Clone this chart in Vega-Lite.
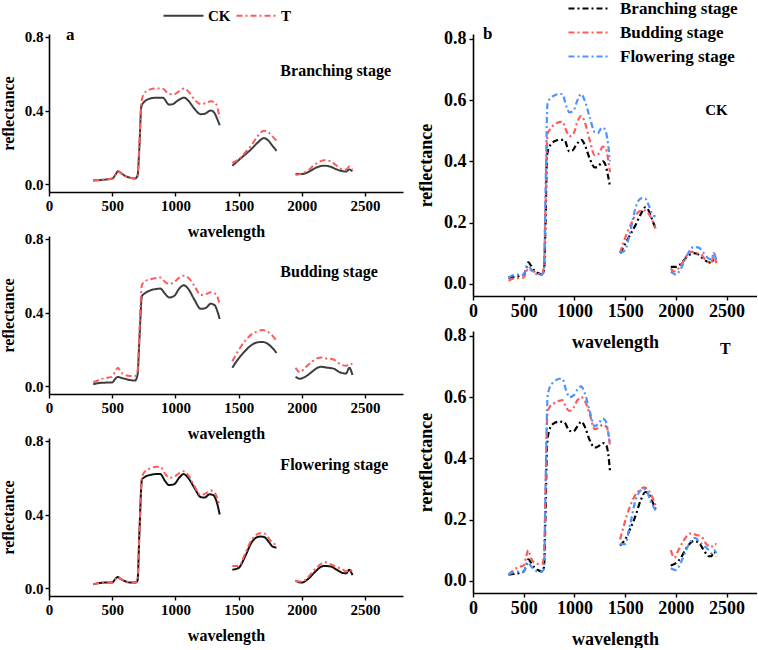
{
  "$schema": "https://vega.github.io/schema/vega-lite/v6.json",
  "padding": 0,
  "background": "#ffffff",
  "config": {
    "font": "Liberation Serif",
    "view": {"stroke": null},
    "axis": {
      "grid": false,
      "domainColor": "#000000",
      "domainWidth": 1.6,
      "tickColor": "#000000",
      "tickWidth": 1.4,
      "labelFont": "Liberation Serif",
      "labelFontWeight": "bold",
      "labelColor": "#000000",
      "titleFont": "Liberation Serif",
      "titleFontWeight": "bold",
      "titleColor": "#000000",
      "labelOverlap": false,
      "labelFlush": false
    },
    "legend": {
      "labelFont": "Liberation Serif",
      "labelFontWeight": "bold",
      "labelColor": "#000000"
    },
    "text": {"font": "Liberation Serif", "fontWeight": "bold", "color": "#000000"}
  },
  "datasets": {
    "spec": [
      {"stage":"Branching","trt":"CK","seg":1,"wl":350,"r":0.020},{"stage":"Branching","trt":"CK","seg":1,"wl":400,"r":0.022},{"stage":"Branching","trt":"CK","seg":1,"wl":450,"r":0.025},{"stage":"Branching","trt":"CK","seg":1,"wl":500,"r":0.030},{"stage":"Branching","trt":"CK","seg":1,"wl":525,"r":0.050},{"stage":"Branching","trt":"CK","seg":1,"wl":545,"r":0.070},{"stage":"Branching","trt":"CK","seg":1,"wl":570,"r":0.060},{"stage":"Branching","trt":"CK","seg":1,"wl":600,"r":0.045},{"stage":"Branching","trt":"CK","seg":1,"wl":640,"r":0.035},{"stage":"Branching","trt":"CK","seg":1,"wl":680,"r":0.030},{"stage":"Branching","trt":"CK","seg":1,"wl":700,"r":0.045},{"stage":"Branching","trt":"CK","seg":1,"wl":715,"r":0.200},{"stage":"Branching","trt":"CK","seg":1,"wl":730,"r":0.420},{"stage":"Branching","trt":"CK","seg":1,"wl":750,"r":0.445},{"stage":"Branching","trt":"CK","seg":1,"wl":800,"r":0.465},{"stage":"Branching","trt":"CK","seg":1,"wl":850,"r":0.470},{"stage":"Branching","trt":"CK","seg":1,"wl":900,"r":0.470},{"stage":"Branching","trt":"CK","seg":1,"wl":950,"r":0.432},{"stage":"Branching","trt":"CK","seg":1,"wl":980,"r":0.435},{"stage":"Branching","trt":"CK","seg":1,"wl":1020,"r":0.455},{"stage":"Branching","trt":"CK","seg":1,"wl":1070,"r":0.470},{"stage":"Branching","trt":"CK","seg":1,"wl":1100,"r":0.455},{"stage":"Branching","trt":"CK","seg":1,"wl":1150,"r":0.410},{"stage":"Branching","trt":"CK","seg":1,"wl":1200,"r":0.380},{"stage":"Branching","trt":"CK","seg":1,"wl":1230,"r":0.382},{"stage":"Branching","trt":"CK","seg":1,"wl":1280,"r":0.400},{"stage":"Branching","trt":"CK","seg":1,"wl":1310,"r":0.385},{"stage":"Branching","trt":"CK","seg":1,"wl":1330,"r":0.355},{"stage":"Branching","trt":"CK","seg":1,"wl":1350,"r":0.320},
      {"stage":"Branching","trt":"CK","seg":2,"wl":1450,"r":0.100},{"stage":"Branching","trt":"CK","seg":2,"wl":1500,"r":0.130},{"stage":"Branching","trt":"CK","seg":2,"wl":1550,"r":0.160},{"stage":"Branching","trt":"CK","seg":2,"wl":1600,"r":0.190},{"stage":"Branching","trt":"CK","seg":2,"wl":1650,"r":0.225},{"stage":"Branching","trt":"CK","seg":2,"wl":1700,"r":0.250},{"stage":"Branching","trt":"CK","seg":2,"wl":1730,"r":0.240},{"stage":"Branching","trt":"CK","seg":2,"wl":1760,"r":0.215},{"stage":"Branching","trt":"CK","seg":2,"wl":1800,"r":0.180},
      {"stage":"Branching","trt":"CK","seg":3,"wl":1950,"r":0.055},{"stage":"Branching","trt":"CK","seg":3,"wl":2000,"r":0.055},{"stage":"Branching","trt":"CK","seg":3,"wl":2050,"r":0.065},{"stage":"Branching","trt":"CK","seg":3,"wl":2100,"r":0.085},{"stage":"Branching","trt":"CK","seg":3,"wl":2150,"r":0.098},{"stage":"Branching","trt":"CK","seg":3,"wl":2175,"r":0.100},{"stage":"Branching","trt":"CK","seg":3,"wl":2225,"r":0.095},{"stage":"Branching","trt":"CK","seg":3,"wl":2275,"r":0.080},{"stage":"Branching","trt":"CK","seg":3,"wl":2325,"r":0.070},{"stage":"Branching","trt":"CK","seg":3,"wl":2350,"r":0.068},{"stage":"Branching","trt":"CK","seg":3,"wl":2375,"r":0.080},{"stage":"Branching","trt":"CK","seg":3,"wl":2400,"r":0.070},
      {"stage":"Branching","trt":"T","seg":1,"wl":350,"r":0.020},{"stage":"Branching","trt":"T","seg":1,"wl":400,"r":0.022},{"stage":"Branching","trt":"T","seg":1,"wl":450,"r":0.025},{"stage":"Branching","trt":"T","seg":1,"wl":500,"r":0.030},{"stage":"Branching","trt":"T","seg":1,"wl":525,"r":0.050},{"stage":"Branching","trt":"T","seg":1,"wl":545,"r":0.070},{"stage":"Branching","trt":"T","seg":1,"wl":570,"r":0.060},{"stage":"Branching","trt":"T","seg":1,"wl":600,"r":0.045},{"stage":"Branching","trt":"T","seg":1,"wl":640,"r":0.035},{"stage":"Branching","trt":"T","seg":1,"wl":680,"r":0.030},{"stage":"Branching","trt":"T","seg":1,"wl":700,"r":0.045},{"stage":"Branching","trt":"T","seg":1,"wl":715,"r":0.220},{"stage":"Branching","trt":"T","seg":1,"wl":730,"r":0.440},{"stage":"Branching","trt":"T","seg":1,"wl":750,"r":0.490},{"stage":"Branching","trt":"T","seg":1,"wl":800,"r":0.515},{"stage":"Branching","trt":"T","seg":1,"wl":850,"r":0.520},{"stage":"Branching","trt":"T","seg":1,"wl":900,"r":0.518},{"stage":"Branching","trt":"T","seg":1,"wl":950,"r":0.490},{"stage":"Branching","trt":"T","seg":1,"wl":990,"r":0.488},{"stage":"Branching","trt":"T","seg":1,"wl":1030,"r":0.505},{"stage":"Branching","trt":"T","seg":1,"wl":1070,"r":0.520},{"stage":"Branching","trt":"T","seg":1,"wl":1100,"r":0.505},{"stage":"Branching","trt":"T","seg":1,"wl":1150,"r":0.460},{"stage":"Branching","trt":"T","seg":1,"wl":1200,"r":0.435},{"stage":"Branching","trt":"T","seg":1,"wl":1240,"r":0.440},{"stage":"Branching","trt":"T","seg":1,"wl":1280,"r":0.450},{"stage":"Branching","trt":"T","seg":1,"wl":1310,"r":0.445},{"stage":"Branching","trt":"T","seg":1,"wl":1335,"r":0.410},{"stage":"Branching","trt":"T","seg":1,"wl":1350,"r":0.360},
      {"stage":"Branching","trt":"T","seg":2,"wl":1450,"r":0.115},{"stage":"Branching","trt":"T","seg":2,"wl":1500,"r":0.135},{"stage":"Branching","trt":"T","seg":2,"wl":1550,"r":0.170},{"stage":"Branching","trt":"T","seg":2,"wl":1600,"r":0.210},{"stage":"Branching","trt":"T","seg":2,"wl":1650,"r":0.260},{"stage":"Branching","trt":"T","seg":2,"wl":1700,"r":0.290},{"stage":"Branching","trt":"T","seg":2,"wl":1730,"r":0.285},{"stage":"Branching","trt":"T","seg":2,"wl":1760,"r":0.265},{"stage":"Branching","trt":"T","seg":2,"wl":1800,"r":0.235},
      {"stage":"Branching","trt":"T","seg":3,"wl":1950,"r":0.050},{"stage":"Branching","trt":"T","seg":3,"wl":2000,"r":0.058},{"stage":"Branching","trt":"T","seg":3,"wl":2050,"r":0.075},{"stage":"Branching","trt":"T","seg":3,"wl":2100,"r":0.105},{"stage":"Branching","trt":"T","seg":3,"wl":2150,"r":0.125},{"stage":"Branching","trt":"T","seg":3,"wl":2175,"r":0.130},{"stage":"Branching","trt":"T","seg":3,"wl":2225,"r":0.125},{"stage":"Branching","trt":"T","seg":3,"wl":2275,"r":0.100},{"stage":"Branching","trt":"T","seg":3,"wl":2325,"r":0.080},{"stage":"Branching","trt":"T","seg":3,"wl":2350,"r":0.080},{"stage":"Branching","trt":"T","seg":3,"wl":2375,"r":0.095},{"stage":"Branching","trt":"T","seg":3,"wl":2400,"r":0.080},

      {"stage":"Budding","trt":"CK","seg":1,"wl":350,"r":0.010},{"stage":"Budding","trt":"CK","seg":1,"wl":400,"r":0.017},{"stage":"Budding","trt":"CK","seg":1,"wl":450,"r":0.019},{"stage":"Budding","trt":"CK","seg":1,"wl":500,"r":0.020},{"stage":"Budding","trt":"CK","seg":1,"wl":525,"r":0.040},{"stage":"Budding","trt":"CK","seg":1,"wl":545,"r":0.050},{"stage":"Budding","trt":"CK","seg":1,"wl":570,"r":0.045},{"stage":"Budding","trt":"CK","seg":1,"wl":600,"r":0.040},{"stage":"Budding","trt":"CK","seg":1,"wl":640,"r":0.033},{"stage":"Budding","trt":"CK","seg":1,"wl":680,"r":0.030},{"stage":"Budding","trt":"CK","seg":1,"wl":700,"r":0.060},{"stage":"Budding","trt":"CK","seg":1,"wl":715,"r":0.250},{"stage":"Budding","trt":"CK","seg":1,"wl":735,"r":0.490},{"stage":"Budding","trt":"CK","seg":1,"wl":760,"r":0.505},{"stage":"Budding","trt":"CK","seg":1,"wl":800,"r":0.520},{"stage":"Budding","trt":"CK","seg":1,"wl":850,"r":0.528},{"stage":"Budding","trt":"CK","seg":1,"wl":880,"r":0.530},{"stage":"Budding","trt":"CK","seg":1,"wl":920,"r":0.500},{"stage":"Budding","trt":"CK","seg":1,"wl":950,"r":0.482},{"stage":"Budding","trt":"CK","seg":1,"wl":990,"r":0.490},{"stage":"Budding","trt":"CK","seg":1,"wl":1030,"r":0.530},{"stage":"Budding","trt":"CK","seg":1,"wl":1065,"r":0.548},{"stage":"Budding","trt":"CK","seg":1,"wl":1100,"r":0.530},{"stage":"Budding","trt":"CK","seg":1,"wl":1150,"r":0.470},{"stage":"Budding","trt":"CK","seg":1,"wl":1200,"r":0.420},{"stage":"Budding","trt":"CK","seg":1,"wl":1240,"r":0.425},{"stage":"Budding","trt":"CK","seg":1,"wl":1280,"r":0.448},{"stage":"Budding","trt":"CK","seg":1,"wl":1310,"r":0.440},{"stage":"Budding","trt":"CK","seg":1,"wl":1335,"r":0.400},{"stage":"Budding","trt":"CK","seg":1,"wl":1350,"r":0.365},
      {"stage":"Budding","trt":"CK","seg":2,"wl":1450,"r":0.100},{"stage":"Budding","trt":"CK","seg":2,"wl":1500,"r":0.150},{"stage":"Budding","trt":"CK","seg":2,"wl":1550,"r":0.190},{"stage":"Budding","trt":"CK","seg":2,"wl":1600,"r":0.222},{"stage":"Budding","trt":"CK","seg":2,"wl":1650,"r":0.238},{"stage":"Budding","trt":"CK","seg":2,"wl":1690,"r":0.240},{"stage":"Budding","trt":"CK","seg":2,"wl":1730,"r":0.230},{"stage":"Budding","trt":"CK","seg":2,"wl":1770,"r":0.205},{"stage":"Budding","trt":"CK","seg":2,"wl":1800,"r":0.180},
      {"stage":"Budding","trt":"CK","seg":3,"wl":1950,"r":0.050},{"stage":"Budding","trt":"CK","seg":3,"wl":1985,"r":0.040},{"stage":"Budding","trt":"CK","seg":3,"wl":2025,"r":0.050},{"stage":"Budding","trt":"CK","seg":3,"wl":2075,"r":0.075},{"stage":"Budding","trt":"CK","seg":3,"wl":2125,"r":0.100},{"stage":"Budding","trt":"CK","seg":3,"wl":2150,"r":0.105},{"stage":"Budding","trt":"CK","seg":3,"wl":2200,"r":0.100},{"stage":"Budding","trt":"CK","seg":3,"wl":2250,"r":0.095},{"stage":"Budding","trt":"CK","seg":3,"wl":2300,"r":0.075},{"stage":"Budding","trt":"CK","seg":3,"wl":2350,"r":0.068},{"stage":"Budding","trt":"CK","seg":3,"wl":2375,"r":0.100},{"stage":"Budding","trt":"CK","seg":3,"wl":2400,"r":0.060},
      {"stage":"Budding","trt":"T","seg":1,"wl":350,"r":0.020},{"stage":"Budding","trt":"T","seg":1,"wl":400,"r":0.035},{"stage":"Budding","trt":"T","seg":1,"wl":450,"r":0.045},{"stage":"Budding","trt":"T","seg":1,"wl":500,"r":0.050},{"stage":"Budding","trt":"T","seg":1,"wl":525,"r":0.080},{"stage":"Budding","trt":"T","seg":1,"wl":545,"r":0.100},{"stage":"Budding","trt":"T","seg":1,"wl":570,"r":0.075},{"stage":"Budding","trt":"T","seg":1,"wl":600,"r":0.060},{"stage":"Budding","trt":"T","seg":1,"wl":640,"r":0.055},{"stage":"Budding","trt":"T","seg":1,"wl":680,"r":0.055},{"stage":"Budding","trt":"T","seg":1,"wl":700,"r":0.080},{"stage":"Budding","trt":"T","seg":1,"wl":715,"r":0.300},{"stage":"Budding","trt":"T","seg":1,"wl":735,"r":0.550},{"stage":"Budding","trt":"T","seg":1,"wl":760,"r":0.570},{"stage":"Budding","trt":"T","seg":1,"wl":800,"r":0.580},{"stage":"Budding","trt":"T","seg":1,"wl":850,"r":0.588},{"stage":"Budding","trt":"T","seg":1,"wl":880,"r":0.590},{"stage":"Budding","trt":"T","seg":1,"wl":920,"r":0.565},{"stage":"Budding","trt":"T","seg":1,"wl":950,"r":0.555},{"stage":"Budding","trt":"T","seg":1,"wl":990,"r":0.565},{"stage":"Budding","trt":"T","seg":1,"wl":1030,"r":0.590},{"stage":"Budding","trt":"T","seg":1,"wl":1065,"r":0.600},{"stage":"Budding","trt":"T","seg":1,"wl":1100,"r":0.590},{"stage":"Budding","trt":"T","seg":1,"wl":1150,"r":0.545},{"stage":"Budding","trt":"T","seg":1,"wl":1200,"r":0.495},{"stage":"Budding","trt":"T","seg":1,"wl":1240,"r":0.500},{"stage":"Budding","trt":"T","seg":1,"wl":1280,"r":0.510},{"stage":"Budding","trt":"T","seg":1,"wl":1320,"r":0.500},{"stage":"Budding","trt":"T","seg":1,"wl":1340,"r":0.470},{"stage":"Budding","trt":"T","seg":1,"wl":1350,"r":0.440},
      {"stage":"Budding","trt":"T","seg":2,"wl":1450,"r":0.135},{"stage":"Budding","trt":"T","seg":2,"wl":1500,"r":0.195},{"stage":"Budding","trt":"T","seg":2,"wl":1550,"r":0.245},{"stage":"Budding","trt":"T","seg":2,"wl":1600,"r":0.280},{"stage":"Budding","trt":"T","seg":2,"wl":1650,"r":0.298},{"stage":"Budding","trt":"T","seg":2,"wl":1690,"r":0.305},{"stage":"Budding","trt":"T","seg":2,"wl":1730,"r":0.295},{"stage":"Budding","trt":"T","seg":2,"wl":1770,"r":0.272},{"stage":"Budding","trt":"T","seg":2,"wl":1800,"r":0.245},
      {"stage":"Budding","trt":"T","seg":3,"wl":1950,"r":0.100},{"stage":"Budding","trt":"T","seg":3,"wl":1985,"r":0.075},{"stage":"Budding","trt":"T","seg":3,"wl":2025,"r":0.100},{"stage":"Budding","trt":"T","seg":3,"wl":2075,"r":0.130},{"stage":"Budding","trt":"T","seg":3,"wl":2125,"r":0.152},{"stage":"Budding","trt":"T","seg":3,"wl":2150,"r":0.155},{"stage":"Budding","trt":"T","seg":3,"wl":2200,"r":0.150},{"stage":"Budding","trt":"T","seg":3,"wl":2250,"r":0.145},{"stage":"Budding","trt":"T","seg":3,"wl":2300,"r":0.120},{"stage":"Budding","trt":"T","seg":3,"wl":2350,"r":0.110},{"stage":"Budding","trt":"T","seg":3,"wl":2375,"r":0.120},{"stage":"Budding","trt":"T","seg":3,"wl":2400,"r":0.120},

      {"stage":"Flowering","trt":"CK","seg":1,"wl":350,"r":0.020},{"stage":"Flowering","trt":"CK","seg":1,"wl":400,"r":0.028},{"stage":"Flowering","trt":"CK","seg":1,"wl":450,"r":0.030},{"stage":"Flowering","trt":"CK","seg":1,"wl":500,"r":0.030},{"stage":"Flowering","trt":"CK","seg":1,"wl":525,"r":0.050},{"stage":"Flowering","trt":"CK","seg":1,"wl":545,"r":0.060},{"stage":"Flowering","trt":"CK","seg":1,"wl":570,"r":0.048},{"stage":"Flowering","trt":"CK","seg":1,"wl":600,"r":0.038},{"stage":"Flowering","trt":"CK","seg":1,"wl":640,"r":0.030},{"stage":"Flowering","trt":"CK","seg":1,"wl":680,"r":0.030},{"stage":"Flowering","trt":"CK","seg":1,"wl":700,"r":0.040},{"stage":"Flowering","trt":"CK","seg":1,"wl":715,"r":0.300},{"stage":"Flowering","trt":"CK","seg":1,"wl":735,"r":0.590},{"stage":"Flowering","trt":"CK","seg":1,"wl":760,"r":0.605},{"stage":"Flowering","trt":"CK","seg":1,"wl":800,"r":0.615},{"stage":"Flowering","trt":"CK","seg":1,"wl":850,"r":0.620},{"stage":"Flowering","trt":"CK","seg":1,"wl":880,"r":0.620},{"stage":"Flowering","trt":"CK","seg":1,"wl":920,"r":0.580},{"stage":"Flowering","trt":"CK","seg":1,"wl":950,"r":0.560},{"stage":"Flowering","trt":"CK","seg":1,"wl":990,"r":0.565},{"stage":"Flowering","trt":"CK","seg":1,"wl":1030,"r":0.600},{"stage":"Flowering","trt":"CK","seg":1,"wl":1065,"r":0.620},{"stage":"Flowering","trt":"CK","seg":1,"wl":1100,"r":0.600},{"stage":"Flowering","trt":"CK","seg":1,"wl":1150,"r":0.545},{"stage":"Flowering","trt":"CK","seg":1,"wl":1200,"r":0.495},{"stage":"Flowering","trt":"CK","seg":1,"wl":1230,"r":0.492},{"stage":"Flowering","trt":"CK","seg":1,"wl":1270,"r":0.510},{"stage":"Flowering","trt":"CK","seg":1,"wl":1300,"r":0.505},{"stage":"Flowering","trt":"CK","seg":1,"wl":1330,"r":0.460},{"stage":"Flowering","trt":"CK","seg":1,"wl":1350,"r":0.400},
      {"stage":"Flowering","trt":"CK","seg":2,"wl":1450,"r":0.100},{"stage":"Flowering","trt":"CK","seg":2,"wl":1500,"r":0.110},{"stage":"Flowering","trt":"CK","seg":2,"wl":1550,"r":0.170},{"stage":"Flowering","trt":"CK","seg":2,"wl":1600,"r":0.245},{"stage":"Flowering","trt":"CK","seg":2,"wl":1640,"r":0.275},{"stage":"Flowering","trt":"CK","seg":2,"wl":1670,"r":0.280},{"stage":"Flowering","trt":"CK","seg":2,"wl":1700,"r":0.278},{"stage":"Flowering","trt":"CK","seg":2,"wl":1740,"r":0.250},{"stage":"Flowering","trt":"CK","seg":2,"wl":1770,"r":0.225},{"stage":"Flowering","trt":"CK","seg":2,"wl":1800,"r":0.220},
      {"stage":"Flowering","trt":"CK","seg":3,"wl":1950,"r":0.040},{"stage":"Flowering","trt":"CK","seg":3,"wl":2000,"r":0.030},{"stage":"Flowering","trt":"CK","seg":3,"wl":2050,"r":0.050},{"stage":"Flowering","trt":"CK","seg":3,"wl":2100,"r":0.085},{"stage":"Flowering","trt":"CK","seg":3,"wl":2150,"r":0.115},{"stage":"Flowering","trt":"CK","seg":3,"wl":2175,"r":0.120},{"stage":"Flowering","trt":"CK","seg":3,"wl":2225,"r":0.118},{"stage":"Flowering","trt":"CK","seg":3,"wl":2275,"r":0.100},{"stage":"Flowering","trt":"CK","seg":3,"wl":2325,"r":0.082},{"stage":"Flowering","trt":"CK","seg":3,"wl":2350,"r":0.080},{"stage":"Flowering","trt":"CK","seg":3,"wl":2375,"r":0.100},{"stage":"Flowering","trt":"CK","seg":3,"wl":2400,"r":0.070},
      {"stage":"Flowering","trt":"T","seg":1,"wl":350,"r":0.020},{"stage":"Flowering","trt":"T","seg":1,"wl":400,"r":0.028},{"stage":"Flowering","trt":"T","seg":1,"wl":450,"r":0.030},{"stage":"Flowering","trt":"T","seg":1,"wl":500,"r":0.030},{"stage":"Flowering","trt":"T","seg":1,"wl":525,"r":0.050},{"stage":"Flowering","trt":"T","seg":1,"wl":545,"r":0.060},{"stage":"Flowering","trt":"T","seg":1,"wl":570,"r":0.048},{"stage":"Flowering","trt":"T","seg":1,"wl":600,"r":0.038},{"stage":"Flowering","trt":"T","seg":1,"wl":640,"r":0.030},{"stage":"Flowering","trt":"T","seg":1,"wl":680,"r":0.030},{"stage":"Flowering","trt":"T","seg":1,"wl":700,"r":0.040},{"stage":"Flowering","trt":"T","seg":1,"wl":715,"r":0.300},{"stage":"Flowering","trt":"T","seg":1,"wl":735,"r":0.600},{"stage":"Flowering","trt":"T","seg":1,"wl":760,"r":0.635},{"stage":"Flowering","trt":"T","seg":1,"wl":800,"r":0.650},{"stage":"Flowering","trt":"T","seg":1,"wl":850,"r":0.660},{"stage":"Flowering","trt":"T","seg":1,"wl":880,"r":0.660},{"stage":"Flowering","trt":"T","seg":1,"wl":920,"r":0.620},{"stage":"Flowering","trt":"T","seg":1,"wl":950,"r":0.600},{"stage":"Flowering","trt":"T","seg":1,"wl":990,"r":0.605},{"stage":"Flowering","trt":"T","seg":1,"wl":1030,"r":0.625},{"stage":"Flowering","trt":"T","seg":1,"wl":1065,"r":0.635},{"stage":"Flowering","trt":"T","seg":1,"wl":1100,"r":0.615},{"stage":"Flowering","trt":"T","seg":1,"wl":1150,"r":0.555},{"stage":"Flowering","trt":"T","seg":1,"wl":1200,"r":0.505},{"stage":"Flowering","trt":"T","seg":1,"wl":1240,"r":0.515},{"stage":"Flowering","trt":"T","seg":1,"wl":1280,"r":0.530},{"stage":"Flowering","trt":"T","seg":1,"wl":1310,"r":0.520},{"stage":"Flowering","trt":"T","seg":1,"wl":1335,"r":0.480},{"stage":"Flowering","trt":"T","seg":1,"wl":1350,"r":0.450},
      {"stage":"Flowering","trt":"T","seg":2,"wl":1450,"r":0.120},{"stage":"Flowering","trt":"T","seg":2,"wl":1500,"r":0.120},{"stage":"Flowering","trt":"T","seg":2,"wl":1550,"r":0.185},{"stage":"Flowering","trt":"T","seg":2,"wl":1600,"r":0.260},{"stage":"Flowering","trt":"T","seg":2,"wl":1640,"r":0.290},{"stage":"Flowering","trt":"T","seg":2,"wl":1680,"r":0.300},{"stage":"Flowering","trt":"T","seg":2,"wl":1710,"r":0.295},{"stage":"Flowering","trt":"T","seg":2,"wl":1750,"r":0.260},{"stage":"Flowering","trt":"T","seg":2,"wl":1800,"r":0.230},
      {"stage":"Flowering","trt":"T","seg":3,"wl":1950,"r":0.040},{"stage":"Flowering","trt":"T","seg":3,"wl":2000,"r":0.035},{"stage":"Flowering","trt":"T","seg":3,"wl":2050,"r":0.060},{"stage":"Flowering","trt":"T","seg":3,"wl":2100,"r":0.100},{"stage":"Flowering","trt":"T","seg":3,"wl":2150,"r":0.130},{"stage":"Flowering","trt":"T","seg":3,"wl":2190,"r":0.140},{"stage":"Flowering","trt":"T","seg":3,"wl":2225,"r":0.130},{"stage":"Flowering","trt":"T","seg":3,"wl":2275,"r":0.115},{"stage":"Flowering","trt":"T","seg":3,"wl":2325,"r":0.100},{"stage":"Flowering","trt":"T","seg":3,"wl":2350,"r":0.090},{"stage":"Flowering","trt":"T","seg":3,"wl":2375,"r":0.100},{"stage":"Flowering","trt":"T","seg":3,"wl":2400,"r":0.090}
    ]
  },
  "spacing": 14,
  "resolve": {"scale": {"color": "independent", "strokeDash": "independent"}},
  "hconcat": [
    {
      "bounds": "flush",
      "spacing": 44,
      "resolve": {"scale": {"color": "independent", "strokeDash": "independent"}},
      "vconcat": [
        {
          "width": 354, "height": 158,
          "layer": [
            {
              "data": {"name": "spec"},
              "transform": [{"filter": "datum.stage === 'Branching'"}],
              "mark": {"type": "line", "interpolate": "monotone", "strokeWidth": 2},
              "encoding": {
                "x": {"field": "wl", "type": "quantitative", "scale": {"domain": [0, 2800], "nice": false},
                      "axis": {"values": [0,250,500,750,1000,1250,1500,1750,2000,2250,2500,2750], "format": "d", "labelExpr": "datum.value % 500 === 0 ? datum.label : ''", "title": "wavelength", "labelFontSize": 15, "titleFontSize": 16, "tickSize": 4, "labelPadding": 2, "titlePadding": 10}},
                "y": {"field": "r", "type": "quantitative", "scale": {"domain": [-0.043, 0.816], "nice": false, "zero": false},
                      "axis": {"values": [0, 0.2, 0.4, 0.6, 0.8], "format": ".1f", "title": "reflectance", "labelFontSize": 15, "titleFontSize": 16, "tickSize": 4, "labelPadding": 2, "titlePadding": 8}},
                "color": {"field": "trt", "type": "nominal", "scale": {"domain": ["CK", "T"], "range": ["#3d3d3d", "#ff5a5a"]},
                          "legend": {"title": null, "orient": "none", "direction": "horizontal", "legendX": 112, "legendY": -26, "symbolType": "M-1,0H7", "symbolSize": 100, "symbolStrokeWidth": 2, "labelFontSize": 15, "labelOffset": 32, "columnPadding": 1, "padding": 0}},
                "strokeDash": {"field": "trt", "type": "nominal", "scale": {"domain": ["CK", "T"], "range": [[1, 0], [6, 3, 2, 3]]},
                          "legend": {"title": null, "orient": "none", "direction": "horizontal", "legendX": 112, "legendY": -26, "symbolType": "M-1,0H7", "symbolSize": 100, "symbolStrokeWidth": 2, "labelFontSize": 15, "labelOffset": 32, "columnPadding": 1, "padding": 0}},
                "detail": {"field": "seg"}
              }
            },
            {"data": {"values": [{}]}, "mark": {"type": "text", "align": "left", "baseline": "middle", "fontSize": 17},
             "encoding": {"x": {"datum": 135}, "y": {"datum": 0.81}, "text": {"value": "a"}}},
            {"data": {"values": [{}]}, "mark": {"type": "text", "align": "left", "baseline": "middle", "fontSize": 16},
             "encoding": {"x": {"datum": 1830}, "y": {"datum": 0.616}, "text": {"value": "Branching stage"}}}
          ]
        },
        {
          "width": 354, "height": 158,
          "layer": [
            {
              "data": {"name": "spec"},
              "transform": [{"filter": "datum.stage === 'Budding'"}],
              "mark": {"type": "line", "interpolate": "monotone", "strokeWidth": 2},
              "encoding": {
                "x": {"field": "wl", "type": "quantitative", "scale": {"domain": [0, 2800], "nice": false},
                      "axis": {"values": [0,250,500,750,1000,1250,1500,1750,2000,2250,2500,2750], "format": "d", "labelExpr": "datum.value % 500 === 0 ? datum.label : ''", "title": "wavelength", "labelFontSize": 15, "titleFontSize": 16, "tickSize": 4, "labelPadding": 2, "titlePadding": 10}},
                "y": {"field": "r", "type": "quantitative", "scale": {"domain": [-0.043, 0.816], "nice": false, "zero": false},
                      "axis": {"values": [0, 0.2, 0.4, 0.6, 0.8], "format": ".1f", "title": "reflectance", "labelFontSize": 15, "titleFontSize": 16, "tickSize": 4, "labelPadding": 2, "titlePadding": 8}},
                "color": {"field": "trt", "type": "nominal", "scale": {"domain": ["CK", "T"], "range": ["#3d3d3d", "#ff5a5a"]}, "legend": null},
                "strokeDash": {"field": "trt", "type": "nominal", "scale": {"domain": ["CK", "T"], "range": [[1, 0], [6, 3, 2, 3]]}, "legend": null},
                "detail": {"field": "seg"}
              }
            },
            {"data": {"values": [{}]}, "mark": {"type": "text", "align": "left", "baseline": "middle", "fontSize": 16},
             "encoding": {"x": {"datum": 1830}, "y": {"datum": 0.62}, "text": {"value": "Budding stage"}}}
          ]
        },
        {
          "width": 354, "height": 158,
          "layer": [
            {
              "data": {"name": "spec"},
              "transform": [{"filter": "datum.stage === 'Flowering'"}],
              "mark": {"type": "line", "interpolate": "monotone", "strokeWidth": 2},
              "encoding": {
                "x": {"field": "wl", "type": "quantitative", "scale": {"domain": [0, 2800], "nice": false},
                      "axis": {"values": [0,250,500,750,1000,1250,1500,1750,2000,2250,2500,2750], "format": "d", "labelExpr": "datum.value % 500 === 0 ? datum.label : ''", "title": "wavelength", "labelFontSize": 15, "titleFontSize": 16, "tickSize": 4, "labelPadding": 2, "titlePadding": 10}},
                "y": {"field": "r", "type": "quantitative", "scale": {"domain": [-0.043, 0.816], "nice": false, "zero": false},
                      "axis": {"values": [0, 0.2, 0.4, 0.6, 0.8], "format": ".1f", "title": "reflectance", "labelFontSize": 15, "titleFontSize": 16, "tickSize": 4, "labelPadding": 2, "titlePadding": 8}},
                "color": {"field": "trt", "type": "nominal", "scale": {"domain": ["CK", "T"], "range": ["#111111", "#ff5a5a"]}, "legend": null},
                "strokeDash": {"field": "trt", "type": "nominal", "scale": {"domain": ["CK", "T"], "range": [[1, 0], [6, 3, 2, 3]]}, "legend": null},
                "detail": {"field": "seg"}
              }
            },
            {"data": {"values": [{}]}, "mark": {"type": "text", "align": "left", "baseline": "middle", "fontSize": 16},
             "encoding": {"x": {"datum": 1830}, "y": {"datum": 0.668}, "text": {"value": "Flowering stage"}}}
          ]
        }
      ]
    },
    {
      "bounds": "flush",
      "spacing": 35,
      "vconcat": [
        {
          "width": 284, "height": 262,
          "layer": [
            {
              "data": {"name": "spec"},
              "transform": [{"filter": "datum.trt === 'CK'"}],
              "mark": {"type": "line", "interpolate": "monotone", "strokeWidth": 2.2},
              "encoding": {
                "x": {"field": "wl", "type": "quantitative", "scale": {"domain": [0, 2800], "nice": false},
                      "axis": {"values": [0,250,500,750,1000,1250,1500,1750,2000,2250,2500,2750], "format": "d", "labelExpr": "datum.value % 500 === 0 ? datum.label : ''", "title": "wavelength", "labelFontSize": 18, "titleFontSize": 18, "tickSize": 4, "labelPadding": 2, "titlePadding": 13}},
                "y": {"field": "r", "type": "quantitative", "scale": {"domain": [-0.04, 0.816], "nice": false, "zero": false},
                      "axis": {"values": [0, 0.2, 0.4, 0.6, 0.8], "format": ".1f", "title": "reflectance", "labelFontSize": 18, "titleFontSize": 18, "tickSize": 4, "labelPadding": 3, "titlePadding": 8}},
                "color": {"field": "stage", "type": "nominal", "scale": {"domain": ["Branching", "Budding", "Flowering"], "range": ["#000000", "#ff5a5a", "#4d94ff"]},
                          "legend": {"title": null, "orient": "none", "direction": "vertical", "legendX": 92, "legendY": -34, "symbolType": "M-1,0H7.4", "symbolSize": 100, "symbolStrokeWidth": 2, "labelFontSize": 17, "labelOffset": 38, "rowPadding": 6, "padding": 0, "labelExpr": "datum.label + ' stage'"}},
                "strokeDash": {"field": "stage", "type": "nominal", "scale": {"domain": ["Branching", "Budding", "Flowering"], "range": [[6, 3, 2, 3], [6, 3, 2, 3], [6, 3, 2, 3]]},
                          "legend": {"title": null, "orient": "none", "direction": "vertical", "legendX": 92, "legendY": -34, "symbolType": "M-1,0H7.4", "symbolSize": 100, "symbolStrokeWidth": 2, "labelFontSize": 17, "labelOffset": 38, "rowPadding": 6, "padding": 0, "labelExpr": "datum.label + ' stage'"}},
                "detail": {"field": "seg"}
              }
            },
            {"data": {"values": [{}]}, "mark": {"type": "text", "align": "left", "baseline": "middle", "fontSize": 17},
             "encoding": {"x": {"datum": 99}, "y": {"datum": 0.816}, "text": {"value": "b"}}},
            {"data": {"values": [{}]}, "mark": {"type": "text", "align": "left", "baseline": "middle", "fontSize": 15},
             "encoding": {"x": {"datum": 2290}, "y": {"datum": 0.568}, "text": {"value": "CK"}}}
          ]
        },
        {
          "width": 284, "height": 262,
          "layer": [
            {
              "data": {"name": "spec"},
              "transform": [{"filter": "datum.trt === 'T'"}],
              "mark": {"type": "line", "interpolate": "monotone", "strokeWidth": 2.2},
              "encoding": {
                "x": {"field": "wl", "type": "quantitative", "scale": {"domain": [0, 2800], "nice": false},
                      "axis": {"values": [0,250,500,750,1000,1250,1500,1750,2000,2250,2500,2750], "format": "d", "labelExpr": "datum.value % 500 === 0 ? datum.label : ''", "title": "wavelength", "labelFontSize": 18, "titleFontSize": 18, "tickSize": 4, "labelPadding": 2, "titlePadding": 13}},
                "y": {"field": "r", "type": "quantitative", "scale": {"domain": [-0.04, 0.816], "nice": false, "zero": false},
                      "axis": {"values": [0, 0.2, 0.4, 0.6, 0.8], "format": ".1f", "title": "rereflectance", "labelFontSize": 18, "titleFontSize": 18, "tickSize": 4, "labelPadding": 3, "titlePadding": 8}},
                "color": {"field": "stage", "type": "nominal", "scale": {"domain": ["Branching", "Budding", "Flowering"], "range": ["#000000", "#ff5a5a", "#4d94ff"]}, "legend": null},
                "strokeDash": {"field": "stage", "type": "nominal", "scale": {"domain": ["Branching", "Budding", "Flowering"], "range": [[6, 3, 2, 3], [6, 3, 2, 3], [6, 3, 2, 3]]}, "legend": null},
                "detail": {"field": "seg"}
              }
            },
            {"data": {"values": [{}]}, "mark": {"type": "text", "align": "left", "baseline": "middle", "fontSize": 16},
             "encoding": {"x": {"datum": 2436}, "y": {"datum": 0.757}, "text": {"value": "T"}}}
          ]
        }
      ]
    }
  ]
}
